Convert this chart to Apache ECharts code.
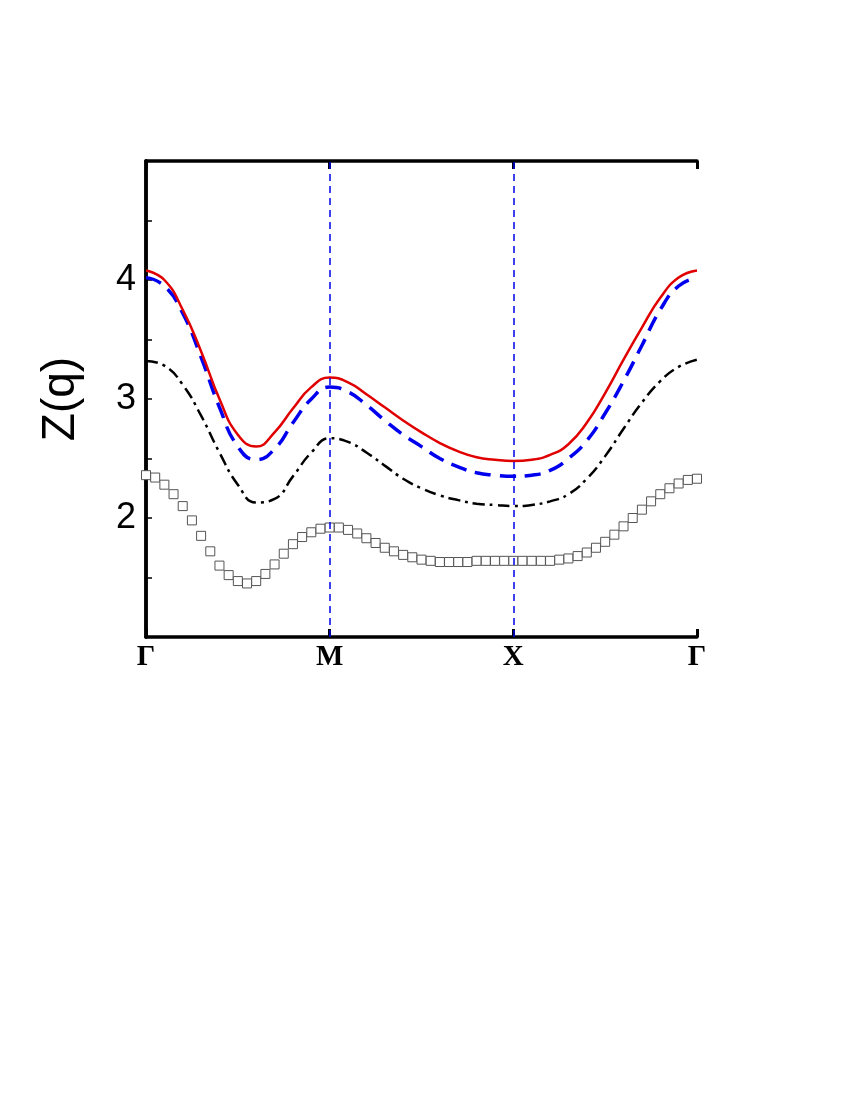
<!DOCTYPE html>
<html><head><meta charset="utf-8">
<script src="https://cdn.jsdelivr.net/npm/echarts@6/dist/echarts.min.js"></script>
<style>body{margin:0;background:#fff}#c{width:850px;height:1100px}</style>
</head><body><div id="c"></div>
<script>
const kLabels = ['Γ','M','X','Γ'];
const xLine = [0,0.1,0.2,0.3,0.4,0.5,0.6,0.7,0.8,0.9,1.0,1.1,1.2,1.3,1.4,1.5,1.6,1.7,1.8,1.9,2.0,2.1,2.2,2.3,2.4,2.5,2.6,2.7,2.8,2.9,3.0];
const redVals = [4.08,4.0,3.75,3.4,3.0,2.7,2.6,2.72,2.92,3.1,3.18,3.14,3.04,2.93,2.82,2.72,2.63,2.56,2.51,2.49,2.48,2.49,2.53,2.62,2.8,3.05,3.33,3.6,3.85,4.02,4.08];
const blueVals = [4.02,3.95,3.72,3.35,2.93,2.6,2.49,2.58,2.8,3.0,3.1,3.06,2.95,2.82,2.7,2.6,2.5,2.43,2.38,2.36,2.35,2.36,2.4,2.5,2.65,2.88,3.15,3.45,3.75,3.95,4.02];
const blackVals = [3.32,3.28,3.12,2.86,2.55,2.28,2.13,2.16,2.35,2.55,2.67,2.64,2.55,2.44,2.33,2.25,2.19,2.15,2.12,2.11,2.1,2.11,2.14,2.2,2.33,2.52,2.75,2.97,3.15,3.27,3.33];
const squareVals = [2.36,2.34,2.28,2.2,2.1,1.98,1.85,1.72,1.6,1.52,1.47,1.45,1.47,1.53,1.61,1.7,1.78,1.84,1.88,1.91,1.92,
 1.92,1.9,1.87,1.83,1.79,1.75,1.72,1.69,1.67,1.65,1.64,1.63,1.63,1.63,1.63,1.64,1.64,1.64,1.64,1.64,
 1.64,1.64,1.64,1.64,1.65,1.66,1.68,1.71,1.75,1.8,1.86,1.93,2.0,2.07,2.14,2.2,2.25,2.29,2.32,2.33];
const yTicks = [2,3,4];

const pair = (xs, ys) => ys.map((v,i)=>[xs[i], v]);
const xSq = squareVals.map((_,i)=>i*0.05);
const chart = echarts.init(document.getElementById('c'));
const axisLine = {show:true, lineStyle:{color:'#000', width:3.5}};
chart.setOption({
  animation:false,
  grid:{left:146, top:161, width:551, height:476},
  xAxis:[{type:'value', min:0, max:3, interval:1, axisLine,
    axisTick:{inside:true, length:8, lineStyle:{width:3,color:'#000'}},
    axisLabel:{formatter:v=>kLabels[Math.round(v)], fontFamily:'Liberation Serif', fontWeight:'bold', fontSize:29, color:'#000', margin:6},
    splitLine:{show:false}},
    {type:'value', position:'top', min:0, max:3, interval:1, axisLine,
    axisTick:{inside:true, length:8, lineStyle:{width:3,color:'#000'}}, axisLabel:{show:false}, splitLine:{show:false}}],
  yAxis:[{type:'value', min:1, max:5, interval:0.5, axisLine,
    axisTick:{inside:true, length:6, lineStyle:{width:1.5,color:'#000'}},
    axisLabel:{formatter:v=>yTicks.includes(v)?String(v):'', fontFamily:'Liberation Sans', fontSize:36, color:'#000', margin:10},
    name:'Z(q)', nameLocation:'middle', nameGap:62, nameTextStyle:{fontFamily:'Liberation Sans', fontSize:46, color:'#000'},
    splitLine:{show:false}},
    {type:'value', position:'right', min:1, max:5, axisLine, axisTick:{show:false}, axisLabel:{show:false}, splitLine:{show:false}}],
  series:[
    {type:'line', data:pair(xLine, redVals), smooth:true, symbol:'none', lineStyle:{color:'#e00000', width:2.5}, z:4,
     markLine:{silent:true, symbol:'none', label:{show:false}, lineStyle:{color:'#0000ee', type:[7,5], width:1.5}, data:[{xAxis:1},{xAxis:2}]}},
    {type:'line', data:pair(xLine, blueVals), smooth:true, symbol:'none', lineStyle:{color:'#0000ee', width:3.5, type:[16,9]}, z:3},
    {type:'line', data:pair(xLine, blackVals), smooth:true, symbol:'none', lineStyle:{color:'#000', width:2.5, type:[12,5,3,5]}, z:3},
    {type:'line', data:pair(xSq, squareVals), smooth:true, symbol:'rect', symbolSize:9, showSymbol:true,
     itemStyle:{color:'#fff', borderColor:'#555', borderWidth:1}, lineStyle:{width:0}, z:2}
  ]
});
</script></body></html>
